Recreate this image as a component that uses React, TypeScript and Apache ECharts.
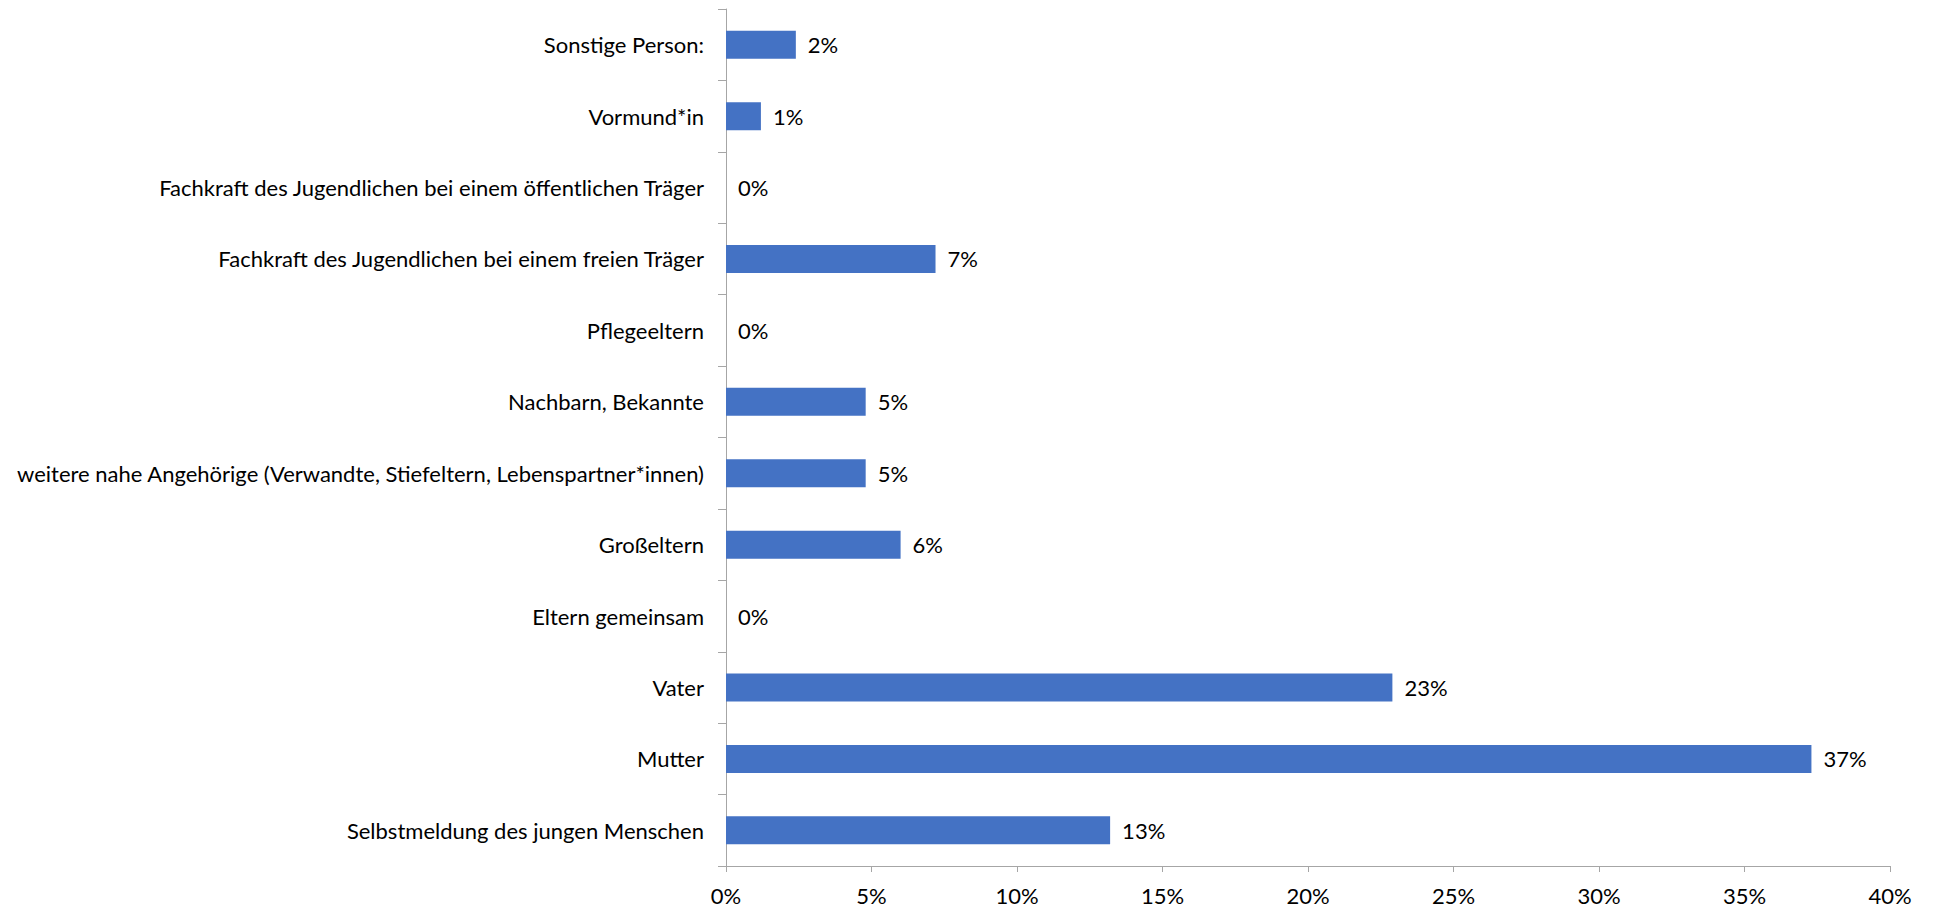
import React, { useEffect, useRef } from "react";
import * as echarts from "echarts";

const categories = [
  "Selbstmeldung des jungen Menschen",
  "Mutter",
  "Vater",
  "Eltern gemeinsam",
  "Großeltern",
  "weitere nahe Angehörige (Verwandte, Stiefeltern, Lebenspartner*innen)",
  "Nachbarn, Bekannte",
  "Pflegeeltern",
  "Fachkraft des Jugendlichen bei einem freien Träger",
  "Fachkraft des Jugendlichen bei einem öffentlichen Träger",
  "Vormund*in",
  "Sonstige Person:",
];
const values = [13.2, 37.3, 22.9, 0, 6.0, 4.8, 4.8, 0, 7.2, 0, 1.2, 2.4];
const xTicks = { min: 0, max: 40, interval: 5 };

const FONT = "Lato";
const FS = 22;
const AXIS = "#A6A6A6";

export default function App() {
  const ref = useRef<HTMLDivElement>(null);
  useEffect(() => {
    document.body.style.margin = "0";
    const chart = echarts.init(ref.current!, null, { renderer: "svg" });
    chart.setOption({
      animation: false,
      backgroundColor: "#ffffff",
      grid: { left: 726, right: 43, top: 9, bottom: 43, containLabel: false },
      xAxis: {
        type: "value",
        min: xTicks.min,
        max: xTicks.max,
        interval: xTicks.interval,
        splitLine: { show: false },
        axisLine: { show: true, lineStyle: { color: AXIS, width: 1 } },
        axisTick: { show: true, length: 6, lineStyle: { color: AXIS } },
        axisLabel: {
          formatter: (v: number) => `${v}%`,
          color: "#000",
          fontFamily: FONT,
          fontSize: FS,
          margin: 18,
        },
      },
      yAxis: {
        type: "category",
        data: categories,
        axisLine: { show: true, lineStyle: { color: AXIS, width: 1 } },
        axisTick: { show: true, length: 8, lineStyle: { color: AXIS } },
        axisLabel: {
          color: "#000",
          fontFamily: FONT,
          fontSize: FS,
          margin: 22,
        },
      },
      series: [
        {
          type: "bar",
          data: values,
          barWidth: 28,
          itemStyle: { color: "#4472C4" },
          label: {
            show: true,
            position: "right",
            distance: 12,
            formatter: (p: any) => `${Math.round(p.value)}%`,
            color: "#000",
            fontFamily: FONT,
            fontSize: FS,
          },
        },
      ],
    });
    return () => chart.dispose();
  }, []);
  return (
    <div
      ref={ref}
      style={{ position: "fixed", left: 0, top: 0, width: 1933, height: 909 }}
    />
  );
}
